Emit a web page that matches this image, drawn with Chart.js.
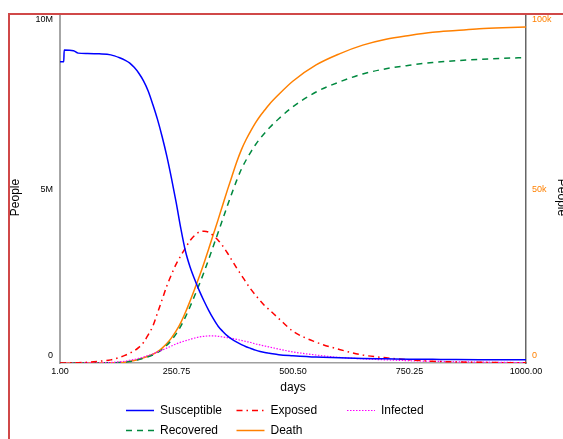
<!DOCTYPE html>
<html>
<head>
<meta charset="utf-8">
<title>SEIRD model</title>
<script src="https://cdn.jsdelivr.net/npm/chart.js@4.4.1/dist/chart.umd.min.js"></script>
<style>
  html, body { margin: 0; padding: 0; width: 563px; height: 439px; overflow: hidden; background: #fff; }
  #frame { position: absolute; left: 8px; top: 13px; width: 580px; height: 460px; border: 2px solid #d04848; }
  #chart { display: block; }
</style>
</head>
<body>
<div id="frame"><canvas id="chart" width="560" height="430"></canvas></div>
<script>
const FONT = '"Liberation Sans", Arial, Helvetica, sans-serif';

// Simulation output, sampled by day
const days = [1, 9, 10, 30, 40, 60, 85, 110, 130,
              140, 150, 160, 170, 180, 190, 200, 210, 220, 230, 240, 250, 260, 270, 280, 290,
              300, 310, 320, 330, 340, 350, 360, 370, 380, 390, 400, 410, 420, 430, 440, 450,
              470, 500, 550, 600, 650, 700, 750, 800, 850, 900, 950, 1000];

// People, in millions (left axis)
const susceptibleM = [8.68, 8.68, 9.02, 9.00, 8.93, 8.92, 8.91, 8.88, 8.79,
                      8.73, 8.65, 8.52, 8.35, 8.13, 7.84, 7.45, 7.02, 6.52, 5.96, 5.32, 4.63, 3.88, 3.22, 2.76, 2.40,
                      2.07, 1.78, 1.51, 1.27, 1.06, 0.91, 0.78, 0.68, 0.60, 0.53, 0.47, 0.42, 0.37, 0.33, 0.30, 0.28,
                      0.24, 0.21, 0.17, 0.15, 0.13, 0.12, 0.11, 0.105, 0.10, 0.097, 0.095, 0.093];
const exposedM     = [0, 0, 0, 0.006, 0.01, 0.02, 0.05, 0.09, 0.17,
                      0.22, 0.28, 0.35, 0.45, 0.59, 0.81, 1.06, 1.44, 1.83, 2.22, 2.55, 2.85, 3.09, 3.32, 3.53, 3.68,
                      3.78, 3.80, 3.77, 3.67, 3.54, 3.37, 3.17, 2.95, 2.73, 2.53, 2.32, 2.13, 1.96, 1.80, 1.65, 1.53,
                      1.28, 0.92, 0.60, 0.39, 0.23, 0.15, 0.09, 0.05, 0.03, 0.02, 0.01, 0.006];
const infectedM    = [0, 0, 0, 0, 0, 0.002, 0.005, 0.014, 0.035,
                      0.05, 0.08, 0.10, 0.135, 0.17, 0.22, 0.26, 0.32, 0.37, 0.43, 0.49, 0.55, 0.60, 0.64, 0.68, 0.72,
                      0.75, 0.77, 0.78, 0.78, 0.77, 0.75, 0.73, 0.71, 0.68, 0.65, 0.62, 0.59, 0.55, 0.52, 0.49, 0.46,
                      0.40, 0.32, 0.23, 0.16, 0.12, 0.09, 0.066, 0.05, 0.035, 0.026, 0.018, 0.012];
const recoveredM   = [0, 0, 0, 0, 0, 0.001, 0.003, 0.006, 0.014,
                      0.023, 0.040, 0.066, 0.098, 0.135, 0.178, 0.23, 0.297, 0.39, 0.51, 0.66, 0.84, 1.06, 1.33, 1.63, 1.95,
                      2.28, 2.63, 3.00, 3.38, 3.76, 4.15, 4.54, 4.91, 5.27, 5.59, 5.85, 6.08, 6.29, 6.47, 6.63, 6.78,
                      7.04, 7.38, 7.81, 8.10, 8.33, 8.48, 8.58, 8.66, 8.71, 8.75, 8.78, 8.80];
// Deaths, in thousands (right axis)
const deathK       = [0, 0, 0, 0, 0, 0.01, 0.03, 0.07, 0.15,
                      0.25, 0.44, 0.73, 1.08, 1.48, 1.96, 2.53, 3.26, 4.29, 5.60, 7.25, 9.23, 11.65, 14.62, 17.91, 21.43,
                      25.06, 28.90, 32.97, 37.15, 41.32, 45.61, 49.89, 53.96, 58.0, 61.5, 64.4, 66.9, 69.2, 71.2, 72.9, 74.6,
                      77.4, 81.2, 85.9, 89.1, 91.6, 93.3, 94.4, 95.3, 95.8, 96.3, 96.6, 96.8];

// Axis ticks and titles
const xTickValues = [1, 250.75, 500.5, 750.25, 1000];
const leftTickValues = [0, 5e6, 1e7];
const leftTickLabels = ['0', '5M', '10M'];
const rightTickValues = [0, 5e4, 1e5];
const rightTickLabels = ['0', '50k', '100k'];
const yTitle = 'People';

const ORANGE = '#ff8000';

const toPoints = (vals, unit) => vals.map((v, i) => ({ x: days[i], y: v * unit }));

// Value labels and titles for the two vertical axes
const axisLabels = {
  id: 'axisLabels',
  afterDraw(chart) {
    const { ctx, chartArea: area, width } = chart;
    ctx.save();
    ctx.font = '9px ' + FONT;
    ctx.textBaseline = 'middle';
    const place = (scale, values, labels, x, align, color) => {
      ctx.textAlign = align;
      ctx.fillStyle = color;
      values.forEach((v, i) => {
        const p = scale.getPixelForValue(v);
        const y = Math.min(Math.max(p, area.top + 4), area.bottom - 7);
        ctx.fillText(labels[i], x, y);
      });
    };
    place(chart.scales.y, leftTickValues, leftTickLabels, area.left - 7, 'right', '#000');
    place(chart.scales.y2, rightTickValues, rightTickLabels, area.right + 6, 'left', ORANGE);

    // rotated axis titles, set a little below the middle of the plot
    const midY = (area.top + area.bottom) / 2 + 8;
    ctx.font = '12px ' + FONT;
    ctx.fillStyle = '#000';
    ctx.textAlign = 'center';
    [[6, -Math.PI / 2], [width - 9, Math.PI / 2]].forEach(([x, rot]) => {
      ctx.save();
      ctx.translate(x, midY);
      ctx.rotate(rot);
      ctx.fillText(yTitle, 0, 0);
      ctx.restore();
    });
    ctx.restore();
  }
};

// Legend laid out as a three-column grid under the x axis
const gridLegend = {
  id: 'gridLegend',
  afterDraw(chart) {
    const { ctx, chartArea: area } = chart;
    const colOffsets = [66, 176.5, 287];
    const rowOffsets = [47.5, 67.5];
    chart.data.datasets.forEach((ds, i) => {
      const x = area.left + colOffsets[i % 3];
      const y = area.bottom + rowOffsets[Math.floor(i / 3)];
      ctx.save();
      ctx.strokeStyle = ds.borderColor;
      ctx.lineWidth = ds.borderWidth;
      ctx.setLineDash(ds.borderDash || []);
      ctx.beginPath();
      ctx.moveTo(x, y);
      ctx.lineTo(x + 28, y);
      ctx.stroke();
      ctx.setLineDash([]);
      ctx.fillStyle = '#000';
      ctx.font = '12px ' + FONT;
      ctx.textAlign = 'left';
      ctx.textBaseline = 'middle';
      ctx.fillText(ds.label, x + 34, y);
      ctx.restore();
    });
  }
};

new Chart(document.getElementById('chart'), {
  type: 'line',
  data: {
    datasets: [
      { label: 'Susceptible', data: toPoints(susceptibleM, 1e6), borderColor: '#0000ff', borderWidth: 1.5, borderDash: [], yAxisID: 'y' },
      { label: 'Exposed',     data: toPoints(exposedM, 1e6),     borderColor: '#ff0000', borderWidth: 1.5, borderDash: [6, 4, 1.5, 4], yAxisID: 'y' },
      { label: 'Infected',    data: toPoints(infectedM, 1e6),    borderColor: '#ff00ff', borderWidth: 1.2, borderDash: [1.5, 1.5], yAxisID: 'y' },
      { label: 'Recovered',   data: toPoints(recoveredM, 1e6),   borderColor: '#00893f', borderWidth: 1.5, borderDash: [6, 5], yAxisID: 'y' },
      { label: 'Death',       data: toPoints(deathK, 1e3),       borderColor: ORANGE,    borderWidth: 1.5, borderDash: [], yAxisID: 'y2' }
    ]
  },
  options: {
    responsive: false,
    animation: false,
    devicePixelRatio: 1,
    events: [],
    layout: { padding: { top: 1, bottom: 51, left: 0, right: 0 } },
    elements: {
      point: { radius: 0 },
      line: { cubicInterpolationMode: 'monotone', fill: false }
    },
    plugins: { legend: { display: false }, tooltip: { enabled: false } },
    scales: {
      x: {
        type: 'linear',
        min: 1,
        max: 1000,
        afterBuildTicks: s => { s.ticks = xTickValues.map(v => ({ value: v })); },
        afterFit: s => { s.height = 31; },
        grid: { display: false, drawTicks: false },
        border: { display: true, color: '#a0a0a0', width: 1.5 },
        ticks: {
          padding: 3, maxRotation: 0, autoSkip: false, color: '#000',
          font: { family: FONT, size: 9 },
          callback: v => Number(v).toFixed(2)
        },
        title: { display: true, text: 'days', color: '#000', padding: 0, font: { family: FONT, size: 12, lineHeight: 1 } }
      },
      y: {
        position: 'left',
        min: 0,
        max: 1e7,
        afterFit: s => { s.width = 50; },
        grid: { display: false, drawTicks: false },
        border: { display: true, color: '#a6a6a6', width: 2 },
        ticks: { display: false },
        title: { display: false }
      },
      y2: {
        position: 'right',
        min: 0,
        max: 1e5,
        afterFit: s => { s.width = 44; },
        grid: { display: false, drawTicks: false },
        border: { display: true, color: '#666666', width: 1.5 },
        ticks: { display: false },
        title: { display: false }
      }
    }
  },
  plugins: [axisLabels, gridLegend]
});
</script>
</body>
</html>
